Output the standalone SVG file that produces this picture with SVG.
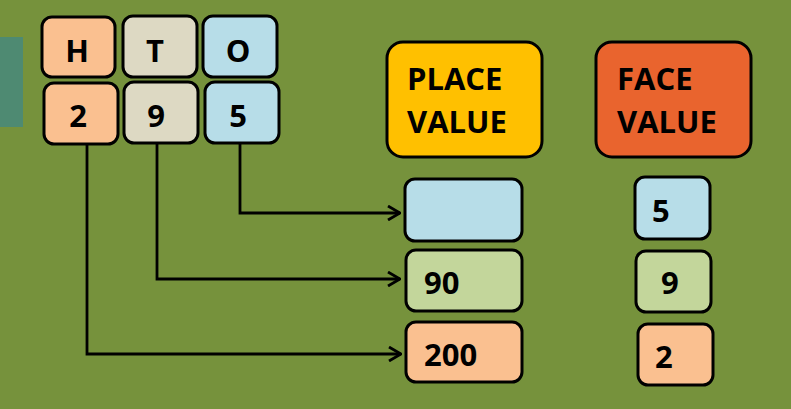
<svg xmlns="http://www.w3.org/2000/svg" width="791" height="409" viewBox="0 0 791 409">
<style>
.b{stroke:#000;stroke-width:3}
.t{font-family:"Open Sans","Liberation Sans",sans-serif;font-weight:bold;font-size:31px;fill:#000}
.c{text-anchor:middle}
.or{fill:#FAC090}.tan{fill:#DDD9C3}.bl{fill:#B7DDE8}.gr{fill:#C3D69B}.go{fill:#FFC000}.rd{fill:#E9642E}
.con{fill:none;stroke:#000;stroke-width:2.8}
</style>
<defs>
<marker id="ah" viewBox="0 0 14 16" refX="13" refY="8" markerWidth="14" markerHeight="16" markerUnits="userSpaceOnUse" orient="auto">
<path d="M1,1 L13,8 L1,15" fill="none" stroke="#000" stroke-width="2.8"/>
</marker>
</defs>
<rect width="791" height="409" fill="#76923C"/>
<rect x="0" y="37" width="23" height="90" fill="#4E8A72"/>
<g id="conn">
<path class="con" d="M240,143 V213 H400" marker-end="url(#ah)"/>
<path class="con" d="M157,143 V279 H400" marker-end="url(#ah)"/>
<path class="con" d="M87,144 V354 H401" marker-end="url(#ah)"/>
</g>
<g id="H"><rect class="b or" x="42" y="17" width="73" height="60" rx="10"/><text class="t c" x="77" y="62">H</text></g>
<g id="T"><rect class="b tan" x="123" y="16" width="74" height="61" rx="10"/><text class="t c" x="155" y="62">T</text></g>
<g id="O"><rect class="b bl" x="203" y="16" width="74" height="61" rx="10"/><text class="t c" x="238" y="62">O</text></g>
<g id="d2"><rect class="b or" x="44" y="83" width="74" height="61" rx="10"/><text class="t c" x="78" y="127">2</text></g>
<g id="d9"><rect class="b tan" x="124" y="82" width="74" height="61" rx="10"/><text class="t c" x="156" y="127">9</text></g>
<g id="d5"><rect class="b bl" x="205" y="82" width="74" height="61" rx="10"/><text class="t c" x="238" y="127">5</text></g>
<g id="pv"><rect class="b go" x="387" y="42" width="155" height="115" rx="16"/><text class="t" x="407" y="90">PLACE</text><text class="t" x="407" y="133">VALUE</text></g>
<g id="fv"><rect class="b rd" x="596" y="42" width="155" height="115" rx="16"/><text class="t" x="617" y="90">FACE</text><text class="t" x="617" y="133">VALUE</text></g>
<g id="pv5"><rect class="b bl" x="405" y="179" width="117" height="62" rx="10"/></g>
<g id="pv90"><rect class="b gr" x="406" y="250" width="116" height="61" rx="10"/><text class="t" x="424" y="294">90</text></g>
<g id="pv200"><rect class="b or" x="406" y="322" width="116" height="60" rx="10"/><text class="t" x="424" y="366">200</text></g>
<g id="fv5"><rect class="b bl" x="635" y="177" width="75" height="62" rx="10"/><text class="t" x="652" y="222">5</text></g>
<g id="fv9"><rect class="b gr" x="636" y="251" width="75" height="61" rx="10"/><text class="t" x="661" y="294">9</text></g>
<g id="fv2"><rect class="b or" x="638" y="324" width="75" height="61" rx="10"/><text class="t" x="655" y="368">2</text></g>
</svg>
